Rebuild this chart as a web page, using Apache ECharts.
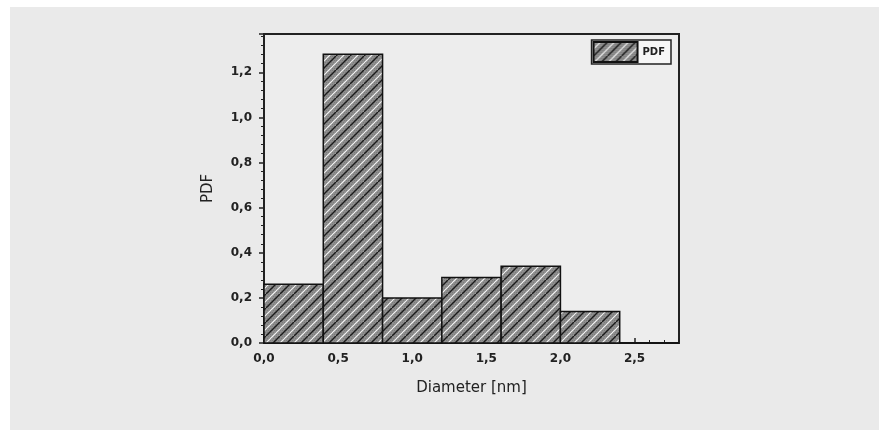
<!DOCTYPE html>
<html lang="en">
<head>
    <meta charset="UTF-8">
    <title>PDF histogram</title>
    <script src="https://cdn.jsdelivr.net/npm/echarts@6/dist/echarts.min.js"></script>
    <style>
        body { margin: 0; background: #fff; }
    </style>
</head>
<body>
<div id="main" style="width: 885px;height:430px;"></div>
<script>
    // histogram bins (nm) and PDF heights
    var binStart = [0.0, 0.4, 0.8, 1.2, 1.6, 2.0, 2.4];
    var binEnd   = [0.4, 0.8, 1.2, 1.6, 2.0, 2.4, 2.8];
    var pdfValues = [0.26, 1.28, 0.20, 0.29, 0.34, 0.14, 0.0];

    var xTickLabels = ['0,0', '0,5', '1,0', '1,5', '2,0', '2,5'];

    var data = binStart.map(function (s, i) {
        return [s, binEnd[i], pdfValues[i]];
    });

    // hatch pattern: grey with dark and white diagonal strokes
    function makeHatch() {
        var c = document.createElement('canvas');
        c.width = 14; c.height = 14;
        var g = c.getContext('2d');
        g.fillStyle = '#8e8e8e';
        g.fillRect(0, 0, 14, 14);
        g.fillStyle = '#7a7a7a';
        for (var i = 0; i < 14; i += 2) {
            for (var j = (i / 2) % 2; j < 14; j += 2) {
                g.fillRect(j, i, 1, 1);
            }
        }
        g.lineWidth = 1.4;
        g.strokeStyle = '#1a1a1a';
        g.beginPath();
        g.moveTo(-2, 16); g.lineTo(16, -2);
        g.stroke();
        g.strokeStyle = '#f4f4f4';
        g.lineWidth = 1.2;
        g.beginPath();
        g.moveTo(-2, 9); g.lineTo(9, -2);
        g.moveTo(5, 16); g.lineTo(16, 5);
        g.stroke();
        return c;
    }
    var hatch = { image: makeHatch(), repeat: 'repeat' };

    var txt = { fontFamily: 'DejaVu Sans', fontSize: 12, fontWeight: 'bold', color: '#222' };
    var nameTxt = { fontFamily: 'DejaVu Sans', fontSize: 15, color: '#222' };

    var myChart = echarts.init(document.getElementById('main'));
    var option = {
        backgroundColor: '#ffffff',
        animation: false,
        graphic: [{
            type: 'rect',
            z: -10,
            shape: { x: 10, y: 7, width: 869, height: 423 },
            style: { fill: '#eaeaea' }
        }],
        grid: {
            left: 264, right: 206, top: 34, bottom: 87,
            show: true,
            backgroundColor: '#ededed',
            borderColor: '#222',
            borderWidth: 2
        },
        legend: {
            right: 214, top: 40,
            data: ['PDF'],
            icon: 'rect',
            itemWidth: 44, itemHeight: 20,
            itemGap: 4,
            padding: [1, 6, 1, 1],
            borderColor: '#222', borderWidth: 1.5,
            backgroundColor: '#f6f6f6',
            textStyle: { fontFamily: 'DejaVu Sans', fontSize: 10, fontWeight: 'bold', color: '#222' }
        },
        xAxis: {
            type: 'value',
            min: 0, max: 2.8, interval: 0.5,
            name: 'Diameter [nm]',
            nameLocation: 'middle',
            nameGap: 38,
            nameTextStyle: nameTxt,
            axisLine: { lineStyle: { color: '#222', width: 2 } },
            axisTick: { inside: true, length: 5, lineStyle: { color: '#222', width: 1.5 } },
            minorTick: { show: true, splitNumber: 5, length: 3, lineStyle: { color: '#222' } },
            splitLine: { show: false },
            axisLabel: Object.assign({
                margin: 10,
                showMaxLabel: false,
                formatter: function (v) {
                    return xTickLabels[Math.round(v / 0.5)] || '';
                }
            }, txt)
        },
        yAxis: {
            type: 'value',
            min: 0, max: 1.37, interval: 0.2,
            name: 'PDF',
            nameLocation: 'middle',
            nameGap: 48,
            nameTextStyle: nameTxt,
            axisLine: { lineStyle: { color: '#222', width: 2 } },
            axisTick: { length: 5, lineStyle: { color: '#222', width: 1.5 } },
            minorTick: { show: true, splitNumber: 5, length: 3, lineStyle: { color: '#222' } },
            splitLine: { show: false },
            axisLabel: Object.assign({
                margin: 12,
                showMaxLabel: false,
                formatter: function (v) { return v.toFixed(1).replace('.', ','); }
            }, txt)
        },
        series: [{
            name: 'PDF',
            type: 'custom',
            itemStyle: { color: hatch, borderColor: '#111', borderWidth: 1.5 },
            renderItem: function (params, api) {
                var p0 = api.coord([api.value(0), api.value(2)]);
                var p1 = api.coord([api.value(1), 0]);
                return {
                    type: 'rect',
                    shape: { x: p0[0], y: p0[1], width: p1[0] - p0[0], height: p1[1] - p0[1] },
                    style: { fill: hatch, stroke: '#111', lineWidth: 1.5 }
                };
            },
            encode: { x: [0, 1], y: 2 },
            data: data
        }]
    };
    myChart.setOption(option);
</script>
</body>
</html>
